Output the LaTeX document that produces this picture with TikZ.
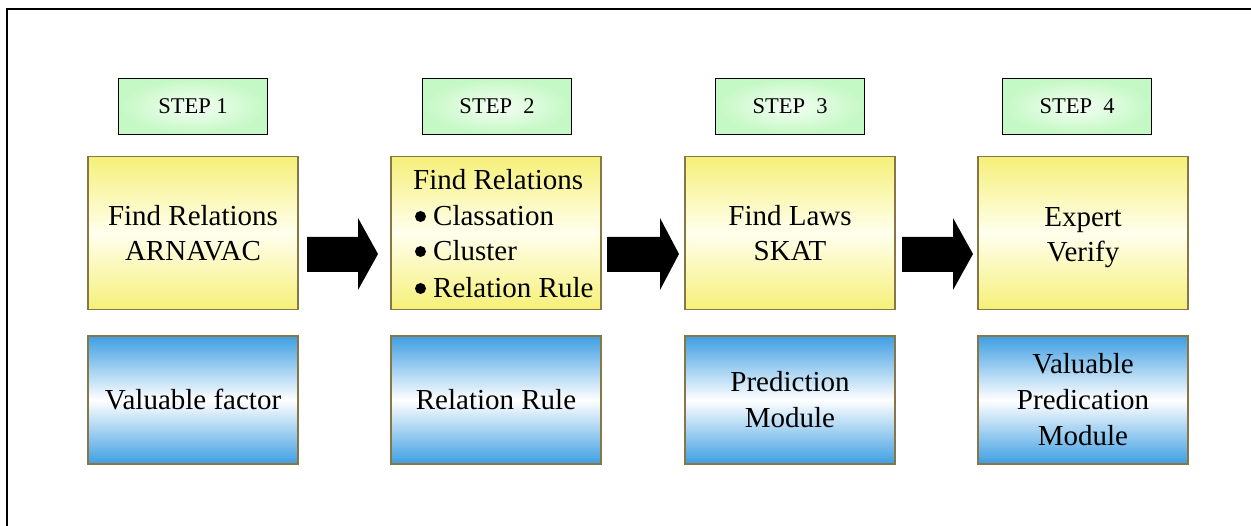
\documentclass[tikz,border=0pt]{standalone}
\usepackage{fontspec}
\setmainfont{LiberationSerif}[Extension=.ttf,UprightFont=*-Regular,BoldFont=*-Bold,ItalicFont=*-Italic]
\begin{document}
\begin{tikzpicture}[x=1pt,y=-1pt,
  stepbox/.style={draw=black,line width=1.3pt,shading=radial,inner color=green!4,outer color={rgb,255:red,196;green,248;blue,196},
    minimum width=149pt,minimum height=56pt,inner sep=0pt,font=\fontsize{22.5}{27}\selectfont},
  yelbox/.style={draw=olivebd,line width=1.5pt,top color=yeltop,bottom color=yeltop,middle color=yelmid,
    minimum width=210pt,minimum height=153pt,inner sep=0pt,align=center,font=\fontsize{29}{35}\selectfont},
  bluebox/.style={draw=olivebd,line width=1.5pt,top color=bluetop,bottom color=bluetop,middle color=white,
    minimum width=210pt,minimum height=128pt,inner sep=0pt,align=center,font=\fontsize{29}{36}\selectfont},
  txt/.style={inner sep=0pt,align=center,font=\fontsize{29}{35}\selectfont},
  bul/.style={circle,fill=black,inner sep=0pt,minimum size=11pt}
]
\definecolor{olivebd}{RGB}{135,118,70}
\definecolor{yeltop}{RGB}{246,240,120}
\definecolor{yelmid}{RGB}{255,255,238}
\definecolor{bluetop}{RGB}{62,158,226}
\useasboundingbox (0,0) rectangle (1251,526);
\fill[white] (0,0) rectangle (1251,526);
\draw[line width=1.4pt] (7,540) -- (7,9) -- (1265,9);

% step labels
\node[stepbox] (s1) at (193,106.5) {STEP 1};
\node[stepbox] (s2) at (497,106.5) {STEP\ \ 2};
\node[stepbox] (s3) at (790,106.5) {STEP\ \ 3};
\node[stepbox] (s4) at (1077,106.5) {STEP\ \ 4};

% yellow boxes
\node[yelbox] (y1) at (193,233) {Find Relations\\ ARNAVAC};
\node[yelbox] (y2) at (496,233) {};
\node[txt,anchor=base west] (y2a) at (413,189.5) {Find Relations};
\node[txt,anchor=base west] (y2b) at (433,225.5) {Classation};
\node[txt,anchor=base west] (y2c) at (433,260.5) {Cluster};
\node[txt,anchor=base west] (y2d) at (433,297.5) {Relation Rule};
\node[bul] (k1) at (420.5,216.5) {};
\node[bul] (k2) at (420.5,251.5) {};
\node[bul] (k3) at (420.5,288.5) {};
\node[yelbox] (y3) at (790,233) {Find Laws\\ SKAT};
\node[yelbox] (y4) at (1083,233) {};
\node[txt] (y4t) at (1083,237.5) {Expert\\ Verify};

% blue boxes
\node[bluebox] (b1) at (193,400) {Valuable factor};
\node[bluebox] (b2) at (496,400) {Relation Rule};
\node[bluebox] (b3) at (790,400) {Prediction\\ Module};
\node[bluebox] (b4) at (1083,400) {Valuable\\ Predication\\ Module};

% block arrows
\foreach \xa/\xh/\xt in {307/358/378, 607/660/679, 902/953/973}{
  \fill[black] (\xa,237) -- (\xh,237) -- (\xh,218) -- (\xt,254) -- (\xh,290) -- (\xh,272) -- (\xa,272) -- cycle;
}
\end{tikzpicture}
\end{document}
